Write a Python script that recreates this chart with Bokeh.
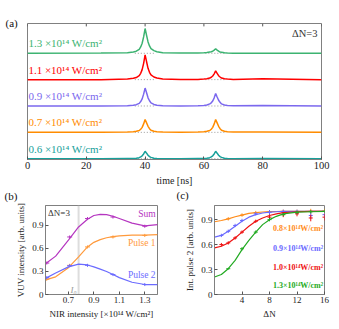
from bokeh.plotting import figure
from bokeh.layouts import column, row
from bokeh.models import Label, Range1d, FixedTicker
from bokeh.embed import file_html
from bokeh.resources import INLINE

FONT = "Liberation Serif"

# ---------------- (a) time traces ----------------
t_a = [0, 25, 34, 36, 37, 38, 38.5, 39, 39.5, 40, 40.5, 41, 41.5, 42, 43, 44, 46, 52,
       58, 60, 61, 62, 62.5, 63, 63.5, 64, 64.5, 65, 65.5, 66, 67, 68, 70, 80, 100]
trace_13 = [0.0, 0.01, 0.02, 0.05, 0.08, 0.15, 0.24, 0.38, 0.62, 0.94, 0.68, 0.43, 0.28, 0.18, 0.1, 0.06, 0.02, 0.01,
            0.01, 0.02, 0.03, 0.05, 0.06, 0.08, 0.12, 0.17, 0.12, 0.08, 0.05, 0.04, 0.02, 0.01, 0.0, 0.0, 0.0]
trace_11 = [0.0, 0.0, 0.02, 0.05, 0.08, 0.15, 0.24, 0.38, 0.62, 0.94, 0.68, 0.43, 0.28, 0.18, 0.1, 0.06, 0.02, 0.01,
            0.01, 0.02, 0.03, 0.06, 0.09, 0.14, 0.22, 0.33, 0.24, 0.15, 0.1, 0.06, 0.03, 0.02, 0.01, 0.03, 0.0]
trace_09 = [0.0, 0.0, 0.01, 0.03, 0.05, 0.1, 0.17, 0.27, 0.45, 0.68, 0.5, 0.31, 0.2, 0.12, 0.06, 0.03, 0.01, 0.0,
            0.01, 0.02, 0.04, 0.08, 0.12, 0.19, 0.31, 0.47, 0.34, 0.22, 0.14, 0.08, 0.04, 0.02, 0.01, 0.02, 0.0]
trace_07 = [0.0, 0.0, 0.01, 0.02, 0.04, 0.07, 0.12, 0.19, 0.32, 0.49, 0.36, 0.23, 0.14, 0.08, 0.04, 0.02, 0.01, 0.0,
            0.01, 0.02, 0.04, 0.07, 0.12, 0.19, 0.32, 0.49, 0.36, 0.23, 0.14, 0.08, 0.04, 0.02, 0.01, 0.01, 0.0]
trace_06 = [0.0, 0.0, 0.01, 0.01, 0.02, 0.04, 0.07, 0.11, 0.18, 0.28, 0.21, 0.13, 0.08, 0.05, 0.02, 0.01, 0.0, 0.0,
            0.01, 0.01, 0.02, 0.04, 0.07, 0.11, 0.18, 0.28, 0.21, 0.13, 0.08, 0.05, 0.02, 0.01, 0.0, 0.01, 0.0]
traces_a = [trace_06, trace_07, trace_09, trace_11, trace_13]
labels_a = ["0.6 ×10¹⁴ W/cm²", "0.7 ×10¹⁴ W/cm²", "0.9 ×10¹⁴ W/cm²",
            "1.1 ×10¹⁴ W/cm²", "1.3 ×10¹⁴ W/cm²"]
colors_a = ["#17a09a", "#ff8c00", "#7b68ee", "#ff0000", "#3cb371"]
peak_times = [40, 64]
ticks_a = [0, 20, 40, 60, 80, 100]

# ---------------- (b) VUV intensity vs NIR intensity ----------------
nir_pts = [0.53, 0.71, 0.85, 1.05, 1.3]
sum_pts = [0.41, 0.75, 0.99, 1.01, 0.89]
p1_pts = [0.20, 0.38, 0.62, 0.75, 0.77]
p2_pts = [0.22, 0.375, 0.38, 0.26, 0.13]
err_b = [0.02, 0.02, 0.02, 0.02, 0.02]
nir_fit = [0.52, 0.6, 0.7, 0.78, 0.85, 0.9, 0.95, 1.0, 1.05, 1.1, 1.2, 1.3, 1.4]
sum_fit = [0.40, 0.50, 0.71, 0.88, 0.98, 1.03, 1.045, 1.04, 1.02, 0.99, 0.93, 0.895, 0.91]
p1_fit = [0.19, 0.23, 0.35, 0.49, 0.62, 0.68, 0.715, 0.74, 0.755, 0.765, 0.775, 0.775, 0.78]
p2_fit = [0.21, 0.28, 0.36, 0.395, 0.385, 0.36, 0.33, 0.30, 0.26, 0.22, 0.16, 0.13, 0.13]
I0 = 0.78
ticks_bx = [0.7, 0.9, 1.1, 1.3]
ticks_by = [0, 0.3, 0.6, 0.9]

# ---------------- (c) Int. pulse 2 vs ΔN ----------------
dn_fit = [0, 1, 2, 3, 4, 5, 6, 7, 8, 9, 10, 12, 14, 16]
c08_fit = [0.875, 0.89, 0.91, 0.935, 0.955, 0.975, 0.985, 0.992, 0.996, 0.998, 1.0, 1.0, 1.0, 1.0]
c09_fit = [0.69, 0.71, 0.76, 0.82, 0.88, 0.93, 0.96, 0.98, 0.99, 0.995, 1.0, 1.0, 1.0, 1.0]
c10_fit = [0.56, 0.58, 0.62, 0.68, 0.75, 0.82, 0.88, 0.92, 0.95, 0.97, 0.985, 0.995, 1.0, 1.0]
c13_fit = [0.21, 0.24, 0.31, 0.41, 0.54, 0.65, 0.75, 0.84, 0.90, 0.94, 0.97, 0.99, 0.995, 1.0]
dn_08 = [2, 4, 6, 8, 10, 12, 14, 16]
c08_pts = [0.91, 0.955, 0.985, 0.995, 1.0, 1.0, 1.0, 1.0]
c08_err = [0.02, 0.02, 0.02, 0.02, 0.02, 0.02, 0.03, 0.03]
dn_09 = [1, 2, 3, 4, 6, 8, 10, 12, 14, 16]
c09_pts = [0.71, 0.76, 0.83, 0.89, 0.97, 0.985, 0.99, 0.99, 0.95, 0.96]
c09_err = [0.02, 0.02, 0.02, 0.02, 0.02, 0.03, 0.03, 0.03, 0.04, 0.04]
dn_10 = [1, 2, 3, 4, 6, 8, 10, 12, 14, 16]
c10_pts = [0.60, 0.62, 0.68, 0.75, 0.88, 0.93, 0.96, 0.97, 0.92, 0.93]
c10_err = [0.02, 0.02, 0.02, 0.02, 0.02, 0.03, 0.03, 0.03, 0.04, 0.04]
dn_13 = [2, 4, 6, 8, 10, 12, 14, 16]
c13_pts = [0.31, 0.55, 0.75, 0.90, 0.96, 0.985, 0.995, 1.0]
c13_err = [0.01, 0.02, 0.02, 0.02, 0.02, 0.02, 0.02, 0.02]
labels_c = ["0.8×10¹⁴W/cm²", "0.9×10¹⁴W/cm²", "1.0×10¹⁴W/cm²", "1.3×10¹⁴W/cm²"]
colors_c = ["#ff8c1a", "#6a6aff", "#ee1111", "#22aa22"]
ticks_cx = [4, 8, 12, 16]
ticks_cy = [0, 0.3, 0.6, 0.9]

FRAME = "#808080"


def style(p, tick_size="9px", label_size="9px"):
    p.xgrid.visible = False
    p.ygrid.visible = False
    p.outline_line_color = FRAME
    p.outline_line_width = 1
    for ax in p.axis:
        ax.axis_line_color = FRAME
        ax.major_tick_line_color = "#555555"
        ax.major_tick_in = 3
        ax.major_tick_out = 0
        ax.minor_tick_line_color = None
        ax.major_label_text_font = FONT
        ax.major_label_text_font_size = tick_size
        ax.major_label_text_color = "#222222"
        ax.major_label_standoff = 2
        ax.axis_label_text_font = FONT
        ax.axis_label_text_font_style = "normal"
        ax.axis_label_text_font_size = label_size
        ax.axis_label_text_color = "#222222"
        ax.axis_label_standoff = 3


def panel_label(p, text, dx, dy):
    # placed in the panel above the frame, so that it is not clipped to the frame
    p.add_layout(Label(x=dx, y=dy, x_units="screen", y_units="screen", text=text,
                       text_color="#111111", text_font=FONT, text_font_size="11px",
                       text_baseline="middle", text_align="left"), "above")


# ---------- figure (a) ----------
YA0, YA1 = -0.03, 5.13
pa = figure(width=331, height=188, output_backend="svg", toolbar_location=None,
            x_range=Range1d(0, 100), y_range=Range1d(YA0, YA1),
            min_border_left=27, min_border_right=10, min_border_top=23, min_border_bottom=29)
pa.yaxis.visible = False
pa.xaxis.ticker = FixedTicker(ticks=ticks_a)
pa.xaxis.axis_label = "time [ns]"
style(pa, "10.5px", "10px")
# mirrored tick marks on the top edge
pa.segment(x0=ticks_a, y0=[YA1] * len(ticks_a), x1=ticks_a, y1=[YA1 - 0.11] * len(ticks_a),
           line_color="#555555", line_width=1)

for i, (tr, col, lab) in enumerate(zip(traces_a, colors_a, labels_a)):
    off = i
    for pt in peak_times:
        pa.segment(x0=[pt - 3.5], y0=[off], x1=[pt + 3.5], y1=[off],
                   line_color="#999999", line_dash="1 2", line_width=1)
    pa.line(t_a, [v + off for v in tr], line_color=col, line_width=1.5)
    pa.add_layout(Label(x=0.3, y=off + 0.15, text=lab, text_color=col, text_font=FONT,
                        text_font_size="11px", text_baseline="bottom", text_align="left"))
pa.add_layout(Label(x=98.6, y=4.75, text="ΔN=3", text_color="#333333", text_font=FONT,
                    text_font_size="10.5px", text_baseline="middle", text_align="right"))
panel_label(pa, "(a)", -22, 1)

# ---------- figure (b) ----------
pb = figure(width=170, height=133, output_backend="svg", toolbar_location=None,
            x_range=Range1d(0.52, 1.40), y_range=Range1d(0, 1.16),
            min_border_left=45, min_border_right=13, min_border_top=16, min_border_bottom=24)
pb.xaxis.ticker = FixedTicker(ticks=ticks_bx)
pb.yaxis.ticker = FixedTicker(ticks=ticks_by)
pb.xaxis.major_label_overrides = {0.7: "0.7", 0.9: "0.9", 1.1: "1.1", 1.3: "1.3"}
pb.yaxis.major_label_overrides = {0: "0", 0.3: "0.3", 0.6: "0.6", 0.9: "0.9"}
pb.xaxis.axis_label = "NIR intensity [×10¹⁴ W/cm²]"
pb.yaxis.axis_label = "VUV intensity [arb. units]"
style(pb)

pb.segment(x0=[I0], y0=[0], x1=[I0], y1=[1.16], line_color="#bbbbbb", line_width=2, line_dash="1 1")
pb.add_layout(Label(x=0.765, y=0.06, text="I₀", text_color="#999999", text_font=FONT,
                    text_font_style="italic", text_font_size="9px", text_align="right",
                    text_baseline="middle"))

series_b = [(sum_fit, sum_pts, "#b535c0", "Sum", 1.045),
            (p1_fit, p1_pts, "#ff9a3c", "Pulse 1", 0.67),
            (p2_fit, p2_pts, "#6b6bff", "Pulse 2", 0.26)]
for fit, pts, col, name, ly in series_b:
    pb.line(nir_fit, fit, line_color=col, line_width=1.2)
    pb.segment(x0=nir_pts, y0=[v - e for v, e in zip(pts, err_b)], x1=nir_pts,
               y1=[v + e for v, e in zip(pts, err_b)], line_color=col, line_width=1)
    pb.scatter(nir_pts, pts, marker="dash", size=5, line_color=col, line_width=1)
    pb.add_layout(Label(x=1.385, y=ly, text=name, text_color=col, text_font=FONT,
                        text_font_size="9.5px", text_align="right", text_baseline="middle"))
pb.add_layout(Label(x=0.54, y=1.06, text="ΔN=3", text_color="#333333", text_font=FONT,
                    text_font_size="9px", text_align="left", text_baseline="middle"))
panel_label(pb, "(b)", -41, 10)

# ---------- figure (c) ----------
pc = figure(width=161, height=133, output_backend="svg", toolbar_location=None,
            x_range=Range1d(0, 16), y_range=Range1d(0, 1.07),
            min_border_left=44, min_border_right=7, min_border_top=17, min_border_bottom=26)
pc.xaxis.ticker = FixedTicker(ticks=ticks_cx)
pc.yaxis.ticker = FixedTicker(ticks=ticks_cy)
pc.yaxis.major_label_overrides = {0: "0", 0.3: "0.3", 0.6: "0.6", 0.9: "0.9"}
pc.xaxis.axis_label = "ΔN"
pc.yaxis.axis_label = "Int. pulse 2 [arb. units]"
style(pc)

series_c = [(c08_fit, dn_08, c08_pts, c08_err, 0.79),
            (c09_fit, dn_09, c09_pts, c09_err, 0.555),
            (c10_fit, dn_10, c10_pts, c10_err, 0.33),
            (c13_fit, dn_13, c13_pts, c13_err, 0.11)]
for (fit, xs, pts, err, ly), col, lab in zip(series_c, colors_c, labels_c):
    pc.line(dn_fit, fit, line_color=col, line_width=1.2)
    pc.segment(x0=xs, y0=[v - e for v, e in zip(pts, err)], x1=xs,
               y1=[v + e for v, e in zip(pts, err)], line_color=col, line_width=1)
    pc.scatter(xs, pts, marker="dash", size=4, line_color=col, line_width=1)
    pc.add_layout(Label(x=15.8, y=ly, text=lab, text_color=col, text_font=FONT,
                        text_font_style="bold", text_font_size="8px", text_align="right",
                        text_baseline="middle"))
panel_label(pc, "(c)", -38, 11)

layout = column(pa, row(pb, pc))
open("out.html", "w").write(file_html(layout, INLINE))
